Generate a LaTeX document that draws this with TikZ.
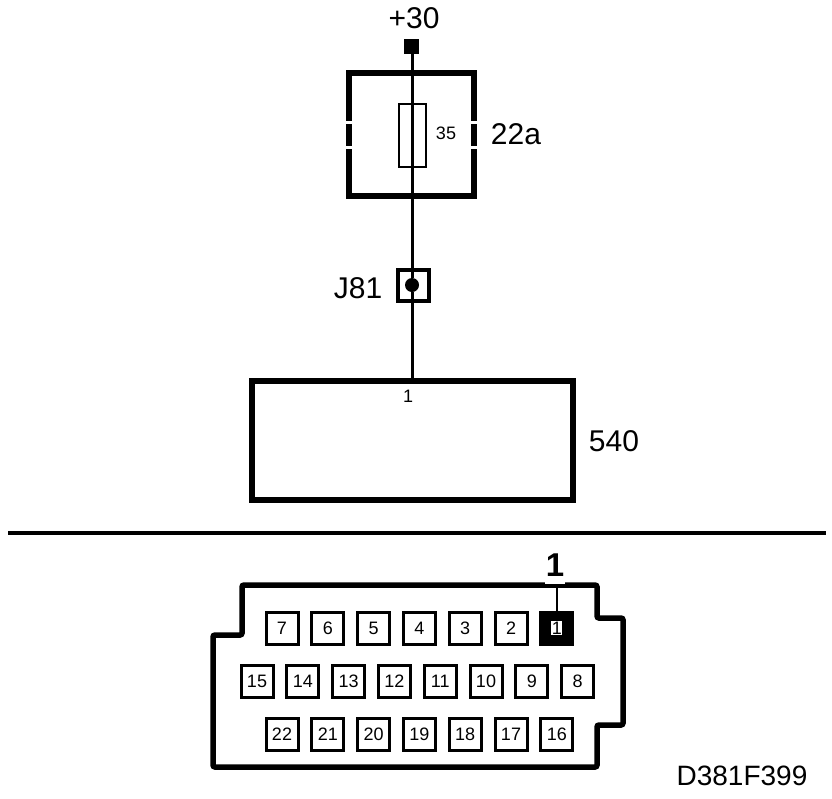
\documentclass[tikz,border=0pt]{standalone}
\usepackage{fontspec}
\setmainfont{Liberation Sans}
\usetikzlibrary{positioning}
\newcommand{\bigsize}{\fontsize{30}{36}\selectfont}
\newcommand{\pinsize}{\fontsize{18}{22}\selectfont}

\begin{document}
\begin{tikzpicture}[x=1pt,y=-1pt,node distance= 45.8pt]
      \useasboundingbox (0,0) rectangle (832,798);
      % labels
      \begin{scope}[every node/.style={inner sep=0pt,font=\bigsize}]
        \node (plus) at (414,18) {+30};
        \node (l22a) at (516,134) {22a};
        \node (lj81) at (358,288) {J81};
        \node (l540) at (614,441) {540};
        \node (lcode) [font=\fontsize{28}{34}\selectfont] at (742,776) {D381F399};
      \end{scope}
      % upper part
      \node (rel) [draw,line width=5.5pt,minimum width=125pt,minimum height=123pt] at (411.5,134.5) {};
      \node (gapa) [fill=white,minimum width=9pt,minimum height=3pt,inner sep=0pt] at (349,122) {};
      \node (gapb) [fill=white,minimum width=9pt,minimum height=3pt,inner sep=0pt] at (349,147) {};
      \node (gapc) [fill=white,minimum width=9pt,minimum height=3pt,inner sep=0pt] at (474,122) {};
      \node (gapd) [fill=white,minimum width=9pt,minimum height=3pt,inner sep=0pt] at (474,147) {};
      \node (term) [fill=black,minimum size=15pt,inner sep=0pt] at (411,46) {};
      \node (fuse) [draw,line width=2pt,minimum width=27pt,minimum height=63pt] at (412,135) {};
      \node (l35) [inner sep=0pt,font=\pinsize] at (446,133) {35};
      \node (jbox) [draw,line width=4.5pt,minimum size=31pt] at (413.5,285.5) {};
      \node (dot) [circle,fill=black,minimum size=14pt,inner sep=0pt] at (412,285) {};
      \node (b540) [draw,line width=5.5pt,minimum width=321pt,minimum height=119pt] at (412.5,440.5) {};
      \node (l1) [inner sep=0pt,font=\pinsize] at (408,396) {1};
      \begin{scope}[every edge/.style={draw= black, line width=3pt}]
        \path (term.south -| dot) edge (dot);
        \path (dot) edge (dot |- b540.north);
      \end{scope}
      % divider
      \coordinate (divl) at (8,533);
      \coordinate (divr) at (826,533);
      \draw [line width=4pt] (divl) -- (divr);
      % connector outline
      \draw [line width=5.5pt,rounded corners=2pt] (242,585) -- (597,585) -- (597,618) -- (623,618)
        -- (623,725) -- (597,725) -- (597,767) -- (213,767) -- (213,635) -- (242,635) -- cycle;
      \node (big1) [fill=white,inner xsep=1pt,inner ysep=0pt,minimum height=38pt,font=\bfseries\fontsize{33}{38}\selectfont] at (555,565) {1};
      % pins
      \begin{scope}[every node/.style={draw,line width=3pt,minimum size=32pt,inner sep=0pt,font=\pinsize}]
        \node (p7) at (282,628) {7};
        \node (p6) [right of= p7] {6};
        \node (p5) [right of= p6] {5};
        \node (p4) [right of= p5] {4};
        \node (p3) [right of= p4] {3};
        \node (p2) [right of= p3] {2};
        \node (p1) [right of= p2,fill=black] {\fboxsep=0.5pt\colorbox{white}{1}};
        \node (p15) at (257,681) {15};
        \node (p14) [right of= p15] {14};
        \node (p13) [right of= p14] {13};
        \node (p12) [right of= p13] {12};
        \node (p11) [right of= p12] {11};
        \node (p10) [right of= p11] {10};
        \node (p9) [right of= p10] {9};
        \node (p8) [right of= p9] {8};
        \node (p22) at (282,734) {22};
        \node (p21) [right of= p22] {21};
        \node (p20) [right of= p21] {20};
        \node (p19) [right of= p20] {19};
        \node (p18) [right of= p19] {18};
        \node (p17) [right of= p18] {17};
        \node (p16) [right of= p17] {16};
      \end{scope}
      \path (big1.south -| p1) edge[draw= black, line width=2pt] (p1.north);
    \end{tikzpicture}
\end{document}
